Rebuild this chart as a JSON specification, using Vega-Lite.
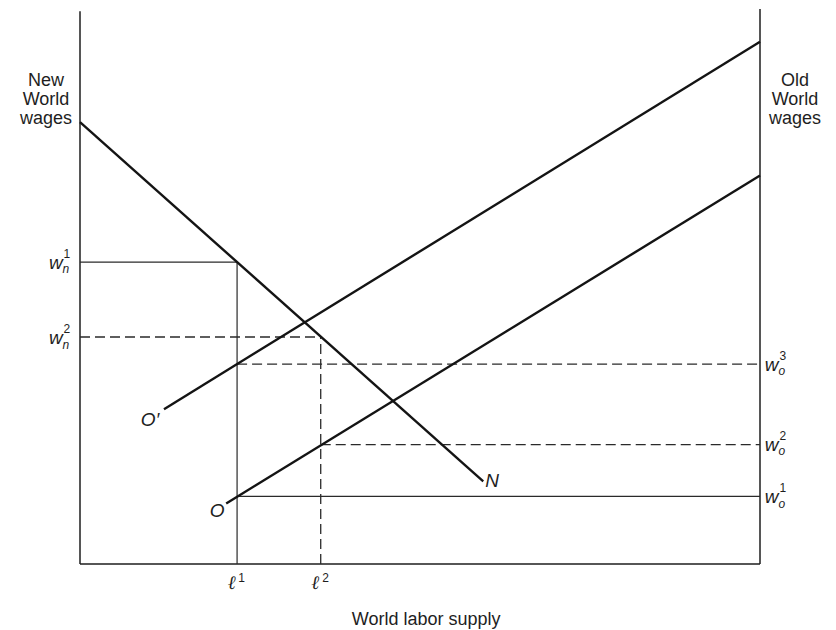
{
  "$schema": "https://vega.github.io/schema/vega-lite/v6.json",
  "width": 680,
  "height": 555,
  "autosize": {"type": "none"},
  "padding": {"left": 80, "top": 9, "right": 76, "bottom": 66},
  "background": "white",
  "config": {"view": {"stroke": null}, "text": {"font": "Liberation Sans", "color": "#1e1e1e"}},
  "datasets": {
    "axes": [
      {"x": 0, "y": 0, "x2": 0, "y2": 99.6},
      {"x": 0, "y": 0, "x2": 100, "y2": 0},
      {"x": 100, "y": 0, "x2": 100, "y2": 100}
    ],
    "curves": [
      {"name": "N", "x": 0, "y": 79.6, "x2": 59.3, "y2": 14.9},
      {"name": "O", "x": 21.5, "y": 10.9, "x2": 100, "y2": 70.0},
      {"name": "O'", "x": 12.35, "y": 27.9, "x2": 100, "y2": 94.1}
    ],
    "solid": [
      {"x": 0, "y": 54.4, "x2": 23.1, "y2": 54.4},
      {"x": 23.1, "y": 0, "x2": 23.1, "y2": 54.4},
      {"x": 23.1, "y": 12.2, "x2": 100, "y2": 12.2}
    ],
    "dashed": [
      {"x": 0, "y": 40.9, "x2": 35.4, "y2": 40.9},
      {"x": 35.4, "y": 0, "x2": 35.4, "y2": 40.9},
      {"x": 23.1, "y": 36.0, "x2": 100, "y2": 36.0},
      {"x": 35.4, "y": 21.5, "x2": 100, "y2": 21.5}
    ],
    "titles": [
      {"x": -5.0, "y": 87.0, "text": "New\nWorld\nwages"},
      {"x": 105.15, "y": 87.0, "text": "Old\nWorld\nwages"},
      {"x": 50.9, "y": -10.1, "text": "World labor supply"}
    ],
    "letters": [
      {"x": 60.6, "y": 14.95, "text": "N"},
      {"x": 20.15, "y": 9.55, "text": "O"},
      {"x": 10.3, "y": 25.9, "text": "O′"},
      {"x": -3.55, "y": 54.2, "text": "w"},
      {"x": -3.55, "y": 40.7, "text": "w"},
      {"x": 101.7, "y": 35.9, "text": "w"},
      {"x": 101.7, "y": 21.4, "text": "w"},
      {"x": 101.7, "y": 12.0, "text": "w"}
    ],
    "ells": [
      {"x": 22.3, "y": -3.5, "text": "ℓ"},
      {"x": 34.6, "y": -3.5, "text": "ℓ"}
    ],
    "sup": [
      {"x": -1.95, "y": 55.9, "text": "1"},
      {"x": -1.95, "y": 42.3, "text": "2"},
      {"x": 103.35, "y": 37.5, "text": "3"},
      {"x": 103.35, "y": 23.1, "text": "2"},
      {"x": 103.35, "y": 13.7, "text": "1"},
      {"x": 23.75, "y": -2.6, "text": "1"},
      {"x": 36.1, "y": -2.6, "text": "2"}
    ],
    "sub": [
      {"x": -2.1, "y": 53.1, "text": "n"},
      {"x": -2.1, "y": 39.5, "text": "n"},
      {"x": 103.2, "y": 34.7, "text": "o"},
      {"x": 103.2, "y": 20.3, "text": "o"},
      {"x": 103.2, "y": 10.9, "text": "o"}
    ]
  },
  "layer": [
    {
      "data": {"name": "axes"},
      "mark": {"type": "rule", "stroke": "#1e1e1e", "strokeWidth": 1.5},
      "encoding": {
        "x": {"field": "x", "type": "quantitative", "scale": {"domain": [0, 100], "nice": false, "zero": false}, "axis": null},
        "y": {"field": "y", "type": "quantitative", "scale": {"domain": [0, 100], "nice": false, "zero": false}, "axis": null},
        "x2": {"field": "x2"},
        "y2": {"field": "y2"}
      }
    },
    {
      "data": {"name": "solid"},
      "mark": {"type": "rule", "stroke": "#2a2a2a", "strokeWidth": 1.2},
      "encoding": {
        "x": {"field": "x", "type": "quantitative", "scale": {"domain": [0, 100], "nice": false, "zero": false}, "axis": null},
        "y": {"field": "y", "type": "quantitative", "scale": {"domain": [0, 100], "nice": false, "zero": false}, "axis": null},
        "x2": {"field": "x2"},
        "y2": {"field": "y2"}
      }
    },
    {
      "data": {"name": "dashed"},
      "mark": {"type": "rule", "stroke": "#2a2a2a", "strokeWidth": 1.3, "strokeDash": [10, 5]},
      "encoding": {
        "x": {"field": "x", "type": "quantitative", "scale": {"domain": [0, 100], "nice": false, "zero": false}, "axis": null},
        "y": {"field": "y", "type": "quantitative", "scale": {"domain": [0, 100], "nice": false, "zero": false}, "axis": null},
        "x2": {"field": "x2"},
        "y2": {"field": "y2"}
      }
    },
    {
      "data": {"name": "curves"},
      "mark": {"type": "rule", "stroke": "#141414", "strokeWidth": 2.4},
      "encoding": {
        "x": {"field": "x", "type": "quantitative", "scale": {"domain": [0, 100], "nice": false, "zero": false}, "axis": null},
        "y": {"field": "y", "type": "quantitative", "scale": {"domain": [0, 100], "nice": false, "zero": false}, "axis": null},
        "x2": {"field": "x2"},
        "y2": {"field": "y2"}
      }
    },
    {
      "data": {"name": "titles"},
      "mark": {"type": "text", "fontSize": 18, "lineBreak": "\n", "lineHeight": 19, "align": "center", "baseline": "middle"},
      "encoding": {
        "x": {"field": "x", "type": "quantitative", "scale": {"domain": [0, 100], "nice": false, "zero": false}, "axis": null},
        "y": {"field": "y", "type": "quantitative", "scale": {"domain": [0, 100], "nice": false, "zero": false}, "axis": null},
        "text": {"field": "text"}
      }
    },
    {
      "data": {"name": "letters"},
      "mark": {"type": "text", "fontSize": 19, "fontStyle": "italic", "align": "center", "baseline": "middle"},
      "encoding": {
        "x": {"field": "x", "type": "quantitative", "scale": {"domain": [0, 100], "nice": false, "zero": false}, "axis": null},
        "y": {"field": "y", "type": "quantitative", "scale": {"domain": [0, 100], "nice": false, "zero": false}, "axis": null},
        "text": {"field": "text"}
      }
    },
    {
      "data": {"name": "ells"},
      "mark": {"type": "text", "font": "DejaVu Serif", "fontSize": 19, "fontStyle": "italic", "align": "center", "baseline": "middle"},
      "encoding": {
        "x": {"field": "x", "type": "quantitative", "scale": {"domain": [0, 100], "nice": false, "zero": false}, "axis": null},
        "y": {"field": "y", "type": "quantitative", "scale": {"domain": [0, 100], "nice": false, "zero": false}, "axis": null},
        "text": {"field": "text"}
      }
    },
    {
      "data": {"name": "sup"},
      "mark": {"type": "text", "fontSize": 12, "align": "center", "baseline": "middle"},
      "encoding": {
        "x": {"field": "x", "type": "quantitative", "scale": {"domain": [0, 100], "nice": false, "zero": false}, "axis": null},
        "y": {"field": "y", "type": "quantitative", "scale": {"domain": [0, 100], "nice": false, "zero": false}, "axis": null},
        "text": {"field": "text"}
      }
    },
    {
      "data": {"name": "sub"},
      "mark": {"type": "text", "fontSize": 12, "fontStyle": "italic", "align": "center", "baseline": "middle"},
      "encoding": {
        "x": {"field": "x", "type": "quantitative", "scale": {"domain": [0, 100], "nice": false, "zero": false}, "axis": null},
        "y": {"field": "y", "type": "quantitative", "scale": {"domain": [0, 100], "nice": false, "zero": false}, "axis": null},
        "text": {"field": "text"}
      }
    }
  ]
}
